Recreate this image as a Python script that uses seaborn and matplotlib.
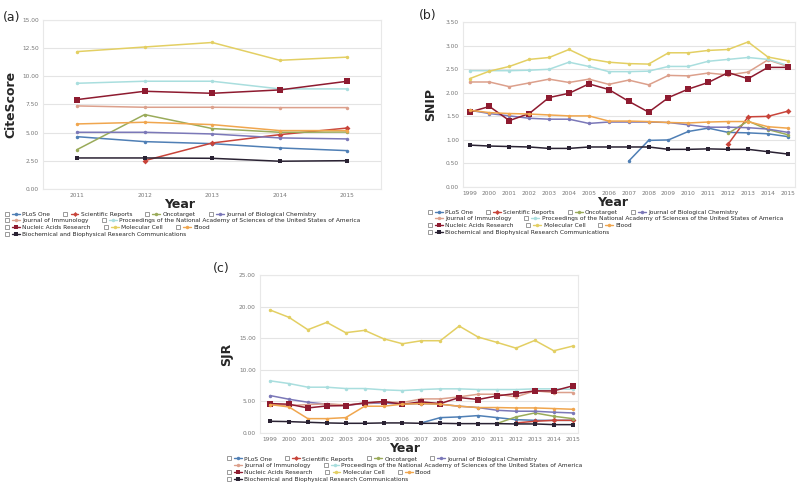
import numpy as np
import pandas as pd
import matplotlib
matplotlib.use("Agg")
import matplotlib.pyplot as plt
import seaborn as sns
from matplotlib.lines import Line2D
from matplotlib.legend_handler import HandlerTuple

nan = np.nan

journals = ["PLoS One", "Scientific Reports", "Oncotarget", "Journal of Biological Chemistry",
            "Journal of Immunology",
            "Proceedings of the National Academy of Sciences of the United States of America",
            "Nucleic Acids Research", "Molecular Cell", "Blood",
            "Biochemical and Biophysical Research Communications"]
legend_rows = [[0, 1, 2, 3], [4, 5], [6, 7, 8], [9]]

# (a) CiteScore 2011-2015
years_a = [2011, 2012, 2013, 2014, 2015]
plos_a = [4.64, 4.20, 4.02, 3.64, 3.40]
sr_a = [nan, 2.51, 4.08, 4.82, 5.41]
onco_a = [3.49, 6.60, 5.36, 5.03, 5.05]
jbc_a = [5.03, 5.03, 4.88, 4.53, 4.44]
jimm_a = [7.37, 7.25, 7.25, 7.22, 7.22]
pnas_a = [9.38, 9.56, 9.56, 8.88, 8.88]
nar_a = [7.93, 8.67, 8.49, 8.79, 9.56]
mcell_a = [12.19, 12.60, 13.00, 11.42, 11.70]
blood_a = [5.77, 5.92, 5.71, 5.18, 5.18]
bbrc_a = [2.75, 2.75, 2.72, 2.46, 2.51]

# (b) SNIP 1999-2015
years_b = list(range(1999, 2016))
plos_b = [nan] * 8 + [0.55, 0.99, 1.00, 1.18, 1.25, 1.16, 1.15, 1.13, 1.07]
sr_b = [nan] * 13 + [0.91, 1.49, 1.50, 1.61]
onco_b = [nan] * 13 + [1.14, 1.40, 1.22, 1.11]
jbc_b = [1.63, 1.56, 1.51, 1.46, 1.44, 1.44, 1.35, 1.38, 1.38, 1.38, 1.37, 1.32, 1.27, 1.27, 1.26, 1.23, 1.16]
jimm_b = [2.23, 2.23, 2.13, 2.21, 2.29, 2.22, 2.29, 2.18, 2.27, 2.17, 2.37, 2.36, 2.42, 2.38, 2.44, 2.70, 2.56]
pnas_b = [2.47, 2.47, 2.47, 2.48, 2.50, 2.65, 2.56, 2.45, 2.45, 2.46, 2.56, 2.56, 2.67, 2.71, 2.75, 2.71, 2.58]
nar_b = [1.59, 1.71, 1.41, 1.56, 1.90, 1.99, 2.19, 2.07, 1.82, 1.59, 1.90, 2.08, 2.22, 2.43, 2.30, 2.54, 2.54]
mcell_b = [2.30, 2.46, 2.56, 2.71, 2.75, 2.92, 2.72, 2.65, 2.62, 2.61, 2.85, 2.85, 2.90, 2.92, 3.08, 2.76, 2.68]
blood_b = [1.63, 1.58, 1.56, 1.55, 1.53, 1.51, 1.51, 1.40, 1.40, 1.39, 1.37, 1.36, 1.38, 1.39, 1.39, 1.28, 1.25]
bbrc_b = [0.89, 0.87, 0.86, 0.85, 0.82, 0.82, 0.85, 0.85, 0.85, 0.85, 0.80, 0.80, 0.81, 0.80, 0.80, 0.75, 0.70]

# (c) SJR 1999-2015
years_c = list(range(1999, 2016))
plos_c = [nan] * 8 + [1.59, 2.43, 2.54, 2.75, 2.43, 2.11, 2.00, 2.00, 2.00]
sr_c = [nan] * 13 + [1.59, 1.85, 2.00, 2.00]
onco_c = [nan] * 12 + [1.50, 2.54, 3.17, 2.64, 2.27]
jbc_c = [5.92, 5.34, 4.86, 4.55, 4.39, 4.65, 4.76, 4.55, 4.65, 4.55, 4.23, 4.02, 3.59, 3.44, 3.44, 3.28, 3.17]
jimm_c = [4.49, 4.33, 4.49, 4.60, 4.44, 4.70, 4.92, 4.81, 5.39, 5.39, 5.71, 6.13, 6.13, 5.71, 6.66, 6.40, 6.40]
pnas_c = [8.25, 7.82, 7.24, 7.24, 7.03, 7.03, 6.82, 6.71, 6.87, 6.98, 6.98, 6.87, 6.87, 6.87, 6.98, 6.98, 6.90]
nar_c = [4.65, 4.55, 3.96, 4.28, 4.33, 4.76, 4.97, 4.55, 4.92, 4.65, 5.60, 5.29, 5.87, 6.24, 6.66, 6.66, 7.45]
mcell_c = [19.45, 18.29, 16.33, 17.49, 15.86, 16.23, 14.90, 14.11, 14.59, 14.59, 16.91, 15.17, 14.32, 13.42, 14.64, 13.00, 13.74]
blood_c = [4.49, 4.12, 2.27, 2.27, 2.43, 4.23, 4.23, 4.55, 4.65, 4.55, 4.23, 4.02, 4.02, 3.96, 3.96, 3.86, 3.75]
bbrc_c = [1.85, 1.80, 1.69, 1.59, 1.53, 1.53, 1.59, 1.59, 1.53, 1.53, 1.48, 1.48, 1.48, 1.43, 1.43, 1.32, 1.32]

colors = ["#4f7fb5", "#c8443a", "#9aab5a", "#7b78b8", "#dca08c",
          "#a9dede", "#8e1b30", "#e3cf63", "#f0a64e", "#2a2233"]
markers = ["o", "D", "o", "o", "o", "o", "s", "o", "o", "s"]
msizes = [2.5, 3, 2.5, 2.5, 2.5, 2.5, 3.8, 2.5, 2.5, 2.6]

sns.set_style("white")
plt.rcParams['font.family'] = ['DejaVu Sans']

fig = plt.figure(figsize=(8, 4.82), dpi=100)

panels = [
    dict(tag="(a)", ylabel="CiteScore", years=years_a,
         series=[plos_a, sr_a, onco_a, jbc_a, jimm_a, pnas_a, nar_a, mcell_a, blood_a, bbrc_a],
         rect=[0.054, 0.608, 0.4225, 0.3506], ylim=(0, 15), step=2.5, xlim=(2010.5, 2015.5),
         tagpos=(0.004, 0.977), ylx=-0.075, xlx=0.405, legx=0.004, legy=0.561, jcheck=True),
    dict(tag="(b)", ylabel="SNIP", years=years_b,
         series=[plos_b, sr_b, onco_b, jbc_b, jimm_b, pnas_b, nar_b, mcell_b, blood_b, bbrc_b],
         rect=[0.579, 0.612, 0.415, 0.342], ylim=(0, 3.5), step=0.5, xlim=(1998.68, 2015.37),
         tagpos=(0.524, 0.982), ylx=-0.078, xlx=0.45, legx=0.532, legy=0.565, jcheck=False),
    dict(tag="(c)", ylabel="SJR", years=years_c,
         series=[plos_c, sr_c, onco_c, jbc_c, jimm_c, pnas_c, nar_c, mcell_c, blood_c, bbrc_c],
         rect=[0.325, 0.1017, 0.3975, 0.328], ylim=(0, 25), step=5, xlim=(1998.47, 2015.28),
         tagpos=(0.266, 0.457), ylx=-0.085, xlx=0.456, legx=0.281, legy=0.053, jcheck=False),
]

for p in panels:
    ax = fig.add_axes(p["rect"])
    for i, vals in enumerate(p["series"]):
        sns.lineplot(x=p["years"], y=vals, ax=ax, color=colors[i], marker=markers[i],
                     markersize=msizes[i], markeredgewidth=0, linewidth=1.1)
    ax.set_xlim(*p["xlim"])
    ax.set_ylim(*p["ylim"])
    ax.set_xticks(p["years"])
    ax.set_xticklabels([str(y) for y in p["years"]])
    ax.set_yticks(np.arange(p["ylim"][0], p["ylim"][1] + 0.001, p["step"]))
    ax.yaxis.set_major_formatter(matplotlib.ticker.FormatStrFormatter("%.2f"))
    ax.tick_params(length=0, labelsize=4.2, labelcolor="#777777", pad=3)
    ax.grid(axis="y", color="#e4e4e4", linewidth=0.8)
    ax.set_axisbelow(True)
    for s in ax.spines.values():
        s.set_color("#e8e8e8")
        s.set_linewidth(0.8)
    ax.set_ylabel(p["ylabel"], fontsize=9, fontweight="bold")
    ax.yaxis.set_label_coords(p["ylx"], 0.5)
    ax.set_xlabel("Year", fontsize=9, fontweight="bold")
    ax.xaxis.set_label_coords(p["xlx"], -0.055)
    fig.text(p["tagpos"][0], p["tagpos"][1], p["tag"], fontsize=9, va="top")

    # legend in four rows, each item with a checkbox
    for r, row in enumerate(legend_rows):
        handles, labels = [], []
        for j in row:
            show_box = p["jcheck"] or j != 4
            box = Line2D([], [], linestyle="none", marker="s", markersize=3.2,
                         markerfacecolor="white", markeredgecolor="#8a8a8a",
                         markeredgewidth=0.6, alpha=1.0 if show_box else 0.0)
            line = Line2D([], [], color=colors[j], marker=markers[j], markersize=2.5,
                          markeredgewidth=0, linewidth=1)
            handles.append((box, line))
            labels.append(journals[j])
        fig.legend(handles, labels, ncol=len(row), loc="upper left",
                   bbox_to_anchor=(p["legx"], p["legy"] - r * 0.0139),
                   frameon=False, fontsize=4.2, handlelength=2.9, handletextpad=0.4,
                   columnspacing=1.9, borderpad=0, borderaxespad=0,
                   handler_map={tuple: HandlerTuple(ndivide=None, pad=0.2)})

fig.savefig("out.png", dpi=100)
